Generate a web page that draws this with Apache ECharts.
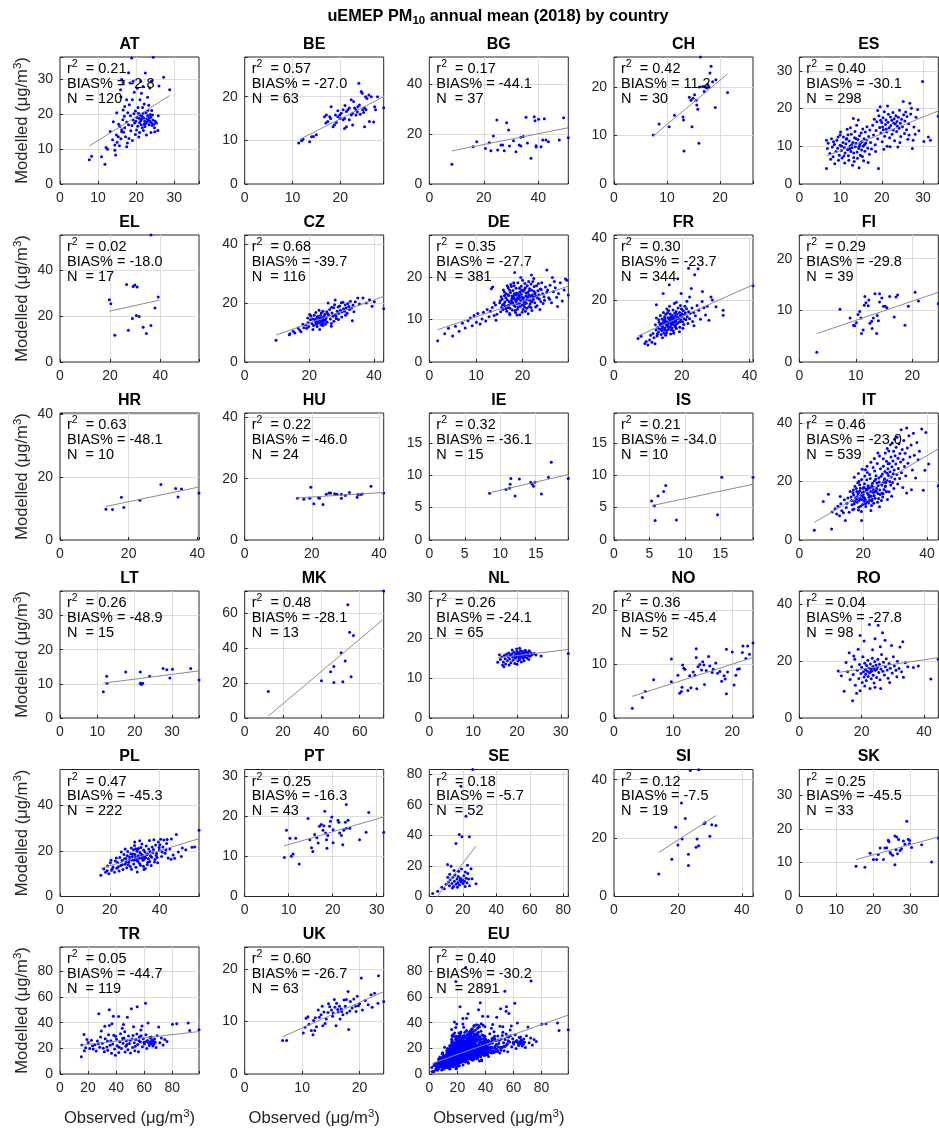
<!DOCTYPE html>
<html>
<head>
<meta charset="utf-8">
<script src="https://cdn.jsdelivr.net/npm/echarts@6/dist/echarts.min.js"></script>
<style>
html,body{margin:0;padding:0;background:#ffffff;}
#chart{width:939px;height:1130px;}
</style>
</head>
<body>
<div id="chart"></div>
<script>
// Panels, in reading order (5 per row)
const countries = ['AT','BE','BG','CH','ES','EL','CZ','DE','FR','FI','HR','HU','IE','IS','IT','LT','MK','NL','NO','RO','PL','PT','SE','SI','SK','TR','UK','EU'];

// Statistics printed in each panel
const r2Text   = ['0.21','0.57','0.17','0.42','0.40','0.02','0.68','0.35','0.30','0.29','0.63','0.22','0.32','0.21','0.46','0.26','0.48','0.26','0.36','0.04','0.47','0.25','0.18','0.12','0.25','0.05','0.60','0.40'];
const biasText = ['-2.8','-27.0','-44.1','11.2','-30.1','-18.0','-39.7','-27.7','-23.7','-29.8','-48.1','-46.0','-36.1','-34.0','-23.0','-48.9','-28.1','-24.1','-45.4','-27.8','-45.3','-16.3','-5.7','-7.5','-45.5','-44.7','-26.7','-30.2'];
const nText    = ['120','63','37','30','298','17','116','381','344','39','10','24','15','10','539','15','13','65','52','98','222','43','52','19','33','119','63','2891'];

// Axis upper limit (same on both axes) and tick step per panel
const axisMax  = [36.5,29.1,51,26.2,33.7, 55.5,43,29.8,41,24.6, 40.5,41.4,19.6,19.6,43.5, 37.2,72.5,31.7,23.5,44.6, 55.8,31.6,83,43.5,37.5, 99,24.2,99];
const tickStep = [10,10,20,10,10, 20,20,10,20,10, 20,20,5,5,20, 10,20,10,10,20, 20,10,20,20,10, 20,10,20];

// Linear fit drawn over each panel: [obs start, mod start, obs end, mod end]
const fitLines = [
  [7.7,10.9,28.8,25.4],[11.5,10.2,29.1,20.0],[8.3,13.3,51,22.6],[7.4,9.9,21.4,22.7],[6.6,7.4,33.7,19.4],
  [19.7,22.2,39.6,27.0],[9.7,9.1,43,22.2],[1.8,7.6,29.8,17.8],[7.1,8.4,41,24.9],[3.1,5.5,24.6,13.5],
  [13.4,10.7,40.5,16.9],[15.4,13.7,41.4,15.5],[8.5,7.3,19.6,10.1],[5.3,5.3,19.6,8.6],[4.7,6.0,43.5,31.2],
  [11.6,10.2,37.2,13.8],[12.3,1.1,72.5,56.5],[15.6,15.0,31.7,17.1],[3.1,4.0,23.5,11.2],[12.5,16.0,44.6,21.2],
  [16.4,12.3,55.8,25.4],[9.0,12.6,31.6,19.8],[2.0,-3.8,27.9,32.9],[14.0,15.1,31.9,27.7],[15.3,10.9,37.5,17.6],
  [15.2,22.4,99,33.1],[6.6,7.1,24.2,15.7],[2.0,8.2,99,46.0]
];

// Station values [observed, modelled] in µg/m3
const AT = [[7.7,7.0],[8.3,8.0],[10.9,7.8],[11.8,5.7],[12.1,10.5],[12.5,10.0],[14.4,9.7],[14.6,8.3],[14.4,11.2],[14.0,17.9],[14.8,14.1],[15.3,13.6],[15.0,12.0],[15.6,11.0],[16.0,13.0],[16.2,15.0],[15.9,27.1],[16.2,30.0],[16.6,29.2],[16.6,21.3],[17.0,22.3],[17.5,24.2],[17.5,10.7],[18.4,29.0],[18.8,36.2],[19.2,29.5],[19.0,24.2],[20.1,15.5],[21.0,24.2],[21.4,26.1],[21.8,28.0],[22.4,31.9],[23.6,27.6],[24.0,29.5],[24.5,36.4],[26.0,28.2],[27.2,30.7],[28.8,27.1],[24.9,15.0],[22.7,14.1],[17.5,17.8],[18.0,17.0],[18.9,16.8],[19.2,18.4],[19.6,17.5],[18.5,19.6],[15.7,16.5],[16.2,15.6],[16.7,14.9],[17.2,13.6],[18.1,13.1],[17.0,16.2],[16.5,18.5],[17.8,20.5],[19.8,21.0],[20.5,22.0],[21.0,19.8],[20.8,18.9],[21.2,18.2],[21.5,19.5],[21.8,20.3],[22.0,19.0],[22.2,18.0],[22.5,17.4],[22.8,18.7],[23.0,19.6],[23.2,18.3],[23.4,17.0],[23.6,18.0],[23.8,19.2],[24.0,17.6],[24.2,16.8],[24.4,18.4],[24.6,17.2],[24.8,16.2],[25.0,18.0],[25.3,17.5],[25.7,15.4],[21.3,17.0],[21.6,16.2],[21.9,15.4],[22.3,16.5],[22.6,20.5],[23.1,21.2],[23.7,20.0],[20.6,20.3],[20.2,19.2],[19.9,18.0],[20.4,16.6],[20.9,14.8],[21.7,22.0],[22.1,23.0],[18.2,22.8],[19.5,26.4],[20.3,27.5],[16.9,19.5],[14.9,20.5],[15.4,17.2],[13.8,12.7],[13.2,15.1],[19.0,12.5],[19.8,14.2],[18.6,15.3],[23.3,22.6],[24.1,21.1],[23.9,14.8],[20.7,13.5],[17.7,11.8],[16.0,25.0],[21.2,29.5],[18.0,32.0],[23.0,24.9],[25.8,19.6],[19.4,20.2],[22.9,17.8],[21.4,18.6],[23.5,19.0],[24.3,19.8],[22.1,17.2],[20.9,17.6]];
const BE = [[11.3,9.4],[11.9,9.9],[12.2,10.2],[13.6,9.7],[14.0,10.8],[14.4,10.9],[15.0,11.3],[16.7,15.4],[17.1,15.8],[17.8,15.4],[18.1,17.7],[17.4,14.3],[18.5,13.1],[18.8,13.6],[19.2,14.1],[19.5,15.4],[19.9,15.8],[20.2,16.2],[20.6,14.7],[20.9,15.0],[21.3,16.6],[21.6,17.0],[21.9,17.4],[21.9,14.7],[21.3,13.1],[20.9,12.7],[22.6,13.5],[22.3,19.3],[22.8,18.9],[23.0,17.4],[23.3,17.0],[23.7,17.7],[23.9,23.1],[24.0,18.1],[24.4,21.2],[24.6,20.8],[24.7,17.0],[24.9,16.4],[25.1,17.4],[25.3,20.0],[25.4,17.0],[25.6,19.6],[26.0,20.4],[26.5,20.0],[26.1,14.3],[25.1,13.1],[27.2,17.7],[27.4,17.0],[27.8,20.0],[27.0,14.2],[29.1,17.5],[22.3,15.8],[22.6,16.2],[23.3,15.8],[20.6,17.0],[19.0,15.8],[19.5,16.8],[21.0,18.0],[23.6,16.5],[24.2,16.0],[18.0,15.0],[17.0,14.0],[20.0,15.0]];
const BG = [[8.3,7.9],[16.1,15.0],[17.4,17.0],[20.6,14.3],[22.0,16.6],[22.6,13.4],[23.5,19.3],[24.8,25.7],[25.1,13.7],[26.3,15.7],[26.9,15.7],[27.5,13.4],[28.4,24.6],[29.1,21.7],[29.4,15.3],[30.9,17.4],[31.8,13.0],[33.0,15.7],[33.6,15.3],[33.6,18.8],[34.5,19.1],[35.5,26.8],[36.0,16.5],[37.3,10.3],[38.5,27.0],[38.8,25.4],[39.2,15.4],[39.2,14.9],[40.1,26.0],[41.0,15.0],[41.6,17.7],[42.2,26.2],[42.8,17.7],[43.7,17.0],[47.7,17.7],[49.3,26.6],[51.0,18.6]];
const CH = [[7.4,10.1],[8.5,12.4],[10.4,11.8],[11.4,14.2],[13.0,13.8],[13.1,13.2],[13.2,6.8],[14.2,17.9],[14.5,17.3],[14.7,11.8],[14.9,17.7],[15.2,18.4],[15.5,17.3],[15.6,16.3],[15.8,15.4],[16.0,8.4],[16.1,20.0],[16.3,26.2],[16.7,20.1],[17.0,19.1],[17.2,20.0],[17.5,19.8],[17.7,20.5],[17.9,20.0],[18.1,22.9],[18.3,24.3],[18.6,21.1],[19.1,15.8],[19.2,21.5],[21.4,18.9]];
const ES = [[6.6,4.1],[6.6,11.6],[7.0,10.8],[6.8,9.4],[7.4,8.1],[8.2,7.2],[8.6,5.4],[9.5,6.3],[9.1,11.6],[9.9,13.0],[10.7,12.5],[7.8,12.0],[8.0,9.8],[8.5,10.5],[8.9,8.6],[9.3,9.5],[9.7,7.6],[9.9,10.3],[10.2,8.9],[10.4,6.9],[10.6,11.0],[10.9,9.6],[11.1,8.2],[11.3,10.7],[11.5,12.1],[11.7,9.1],[11.9,7.5],[12.1,11.4],[12.3,10.0],[12.5,8.6],[12.6,13.2],[12.8,9.6],[13.0,11.0],[13.1,17.4],[13.2,7.0],[13.4,12.3],[13.6,9.9],[13.8,10.8],[13.9,15.6],[14.0,8.5],[14.2,11.8],[14.3,17.0],[14.4,9.4],[14.5,4.3],[14.6,12.8],[14.7,10.4],[14.8,7.6],[15.0,13.5],[15.1,9.0],[15.2,11.2],[15.4,14.6],[15.5,10.0],[15.6,6.2],[15.7,12.0],[15.9,8.7],[16.0,13.8],[16.1,10.8],[16.3,11.7],[16.4,15.2],[16.6,9.5],[16.8,12.6],[17.0,7.9],[17.1,14.3],[11.0,5.6],[12.0,6.3],[12.9,5.0],[10.0,13.8],[11.6,14.5],[12.4,14.9],[13.5,13.9],[9.4,12.5],[8.3,11.2],[7.6,6.6],[10.8,7.4],[13.3,6.0],[14.1,6.8],[16.7,5.7],[15.3,7.3],[17.5,9.3],[17.3,11.0],[11.4,11.9],[12.2,9.3],[13.7,12.1],[14.9,11.0],[10.3,10.0],[12.7,10.4],[15.8,10.5],[11.8,13.1],[13.2,8.2],[14.5,9.9],
  [17.8,15.6],[18.0,13.0],[18.2,17.2],[18.4,10.4],[18.6,14.2],[18.8,16.5],[19.0,12.0],[19.2,4.1],[19.3,18.1],[19.5,15.0],[19.6,20.5],[19.8,13.5],[20.0,16.3],[20.1,11.2],[20.3,17.6],[20.4,14.4],[20.6,19.2],[20.7,12.7],[20.9,15.8],[21.0,17.0],[21.2,13.8],[21.3,10.0],[21.5,16.4],[21.6,18.5],[21.8,14.9],[21.9,12.3],[22.1,17.8],[22.2,15.5],[22.4,16.9],[22.5,13.2],[22.7,19.0],[22.8,14.3],[23.0,17.3],[23.1,11.5],[23.3,15.9],[23.4,18.1],[23.6,13.9],[23.7,16.6],[23.9,9.8],[24.0,17.7],[24.2,14.8],[24.3,19.6],[24.5,16.1],[24.6,12.6],[24.8,17.2],[25.0,15.2],[25.2,21.9],[25.3,18.4],[25.5,13.4],[25.6,16.7],[25.8,19.1],[26.0,14.4],[26.1,17.9],[26.3,11.9],[26.5,16.0],[26.8,21.4],[27.0,18.6],[27.2,20.1],[27.4,9.4],[27.6,11.6],[27.8,15.1],[28.1,13.2],[28.3,17.7],[28.7,19.8],[29.0,14.1],[29.9,27.2],[30.2,11.3],[31.3,12.5],[31.8,11.6],[33.7,18.0],[19.0,19.5],[21.4,20.7],[18.5,8.6],[20.5,9.2],[22.0,9.9],[24.4,11.0],[26.6,13.0],[20.2,15.1],[21.1,14.6],[22.9,16.2],[19.7,16.9],[23.8,15.3]];
const EL = [[19.7,27.2],[20.3,25.5],[21.9,11.7],[26.6,33.9],[27.3,13.9],[28.9,19.0],[29.2,33.0],[29.9,33.6],[30.5,20.3],[30.8,32.8],[31.6,19.9],[33.2,15.2],[34.5,12.5],[36.3,15.9],[36.3,55.5],[37.9,23.6],[39.2,28.4]];
const CZ = [[9.7,7.4],[13.8,9.2],[14.0,9.6],[15.0,10.4],[15.5,9.8],[17.0,10.8],[17.4,10.2],[18.3,11.6],[18.9,12.5],[19.6,13.3],[19.2,11.4],[19.8,12.0],[20.1,16.1],[20.5,15.6],[20.3,14.3],[20.8,13.0],[21.0,14.6],[21.3,12.4],[21.5,15.8],[21.7,14.4],[21.9,13.6],[22.1,12.8],[22.3,14.9],[22.5,13.9],[22.6,15.5],[22.8,13.2],[23.0,14.2],[23.2,14.9],[23.2,11.0],[23.4,13.6],[23.5,15.8],[23.7,16.6],[23.8,14.0],[24.0,13.1],[24.2,17.2],[24.3,14.6],[24.5,15.4],[24.6,13.8],[24.8,16.2],[25.0,14.2],[25.2,15.0],[25.4,17.0],[25.5,13.5],[25.8,20.0],[26.0,15.8],[26.3,17.8],[26.5,14.6],[26.8,12.1],[27.0,16.6],[27.3,15.5],[27.5,18.4],[27.8,19.4],[28.0,16.0],[28.3,15.5],[28.6,17.2],[28.9,18.6],[29.1,16.4],[29.4,19.0],[29.6,17.5],[29.9,20.1],[30.1,16.9],[30.4,20.2],[30.6,18.0],[30.9,17.2],[31.1,19.3],[31.4,18.3],[31.7,16.5],[31.9,19.8],[32.2,18.8],[32.4,17.8],[32.7,20.6],[33.0,18.2],[33.3,14.0],[33.5,19.2],[33.8,17.0],[35.0,21.7],[35.5,19.6],[36.6,21.7],[37.6,20.0],[38.6,21.1],[39.4,18.9],[40.1,20.4],[43.0,18.0],[28.3,14.7],[26.8,13.0],[21.1,11.0],[24.1,12.4],[22.0,16.8],[23.0,17.5],[25.7,16.3],[26.9,18.5],[29.0,14.4],[30.0,15.2],[31.2,15.8],[34.2,20.4],[28.0,21.0],[19.5,14.9],[18.0,12.8],[16.5,11.5],[22.4,12.0],[24.9,12.8],[27.6,13.8],[23.9,15.0],[22.2,13.3],[24.4,14.1],[23.6,12.6]];
const DE = [[1.8,5.0],[3.3,6.6],[4.1,7.9],[5.0,6.1],[5.6,8.4],[6.4,7.2],[7.1,9.1],[7.7,8.0],[8.3,9.7],[8.8,10.3],[9.2,8.5],[9.6,10.9],[10.1,9.3],[10.4,11.4],[10.9,8.9],[11.3,10.1],[11.6,11.7],[12.1,9.6],[12.4,12.3],[12.8,10.6],[13.1,11.9],[13.3,17.2],[13.6,17.6],[13.5,12.8],[13.9,10.9],[14.2,13.4],[14.5,11.2],[14.3,9.8],
  [16.3,13.1],[19.7,15.9],[17.2,11.4],[21.4,16.7],[18.6,14.2],[15.4,15.3],[20.9,12.6],[23.8,17.1],[17.9,16.8],[19.1,12.9],[22.3,14.7],[16.7,14.6],[24.6,15.3],[18.2,17.9],[20.3,14.1],[15.8,12.3],[21.8,18.3],[19.4,11.1],[17.5,13.8],[23.1,13.2],[16.1,16.4],[20.6,17.4],[18.9,15.1],[22.7,16.2],[15.1,13.9],[19.9,13.4],[21.1,15.2],[17.0,15.6],[24.1,18.6],[18.4,12.1],[20.1,16.6],[16.6,11.9],[22.0,12.1],[19.3,17.3],[17.7,14.9],[23.5,15.8],[15.6,14.7],[21.6,13.6],[18.1,13.4],[20.7,15.5],[25.2,16.4],[16.9,17.4],[19.6,14.4],[22.5,17.7],[17.3,12.6],[21.2,11.3],[18.7,16.2],[23.9,14.2],[16.4,15.1],[20.4,12.9],[19.0,18.6],[22.9,15.4],[15.3,11.8],[18.0,15.4],[21.9,16.9],[17.6,17.7],[24.4,13.7],[19.8,16.9],[16.0,13.6],[20.8,13.8],[18.5,11.6],[22.2,18.9],[17.1,14.2],[23.3,16.7],[19.2,15.6],[21.5,14.5],[16.8,12.8],[20.0,19.2],[18.3,14.7],[24.9,17.6],[15.9,16.9],[21.0,17.9],[17.8,12.2],[22.6,13.9],[19.5,13.0],[20.5,18.4],[18.8,13.7],[23.7,12.3],[16.5,16.0],[21.7,15.4],[17.4,16.3],[19.9,11.7],[22.4,16.6],[15.5,12.8],[20.2,15.1],[18.1,18.6],[24.3,16.0],[16.2,14.1],[21.3,18.9],[19.1,14.8],[23.0,17.9],[17.0,13.3],[20.6,11.9],[18.6,17.3],[22.1,14.3],[16.7,17.9],[19.4,16.4],[21.8,12.8],[17.7,15.5],[23.6,14.8],[20.3,13.5],[18.9,12.4],[15.2,14.4],[22.8,12.9],[19.7,17.8],[17.3,11.1],[21.1,16.3],[24.7,14.5],[18.2,16.0],[20.9,14.6],[16.9,15.8],[22.4,19.6],[19.3,13.8],[25.6,15.1],[17.9,13.9],[21.5,17.2],[20.1,12.3],[18.5,15.7],[23.2,15.0],[16.4,12.5],[19.6,19.8],[22.0,15.7],[17.5,18.2],[20.7,16.2],[18.8,11.0],[24.0,17.0],[16.1,15.6],[21.4,13.0],[19.0,16.0],[22.6,16.0],[17.2,16.9],[20.4,17.0],[23.4,18.4],[18.4,13.0],[15.7,13.4],[21.9,14.1],[19.8,15.3],[17.6,14.4],[20.0,14.8],[18.7,14.6],[21.3,15.8],[19.3,15.0],[20.5,14.3],[18.1,15.0],[22.3,15.3],[18.3,21.0],[21.9,20.4],[25.2,21.6],[26.4,19.8],[13.9,13.9],
  [25.4,16.9],[25.9,18.0],[26.2,13.9],[26.6,16.5],[27.0,17.4],[27.3,15.2],[27.7,16.1],[28.1,18.6],[28.5,14.3],[28.9,16.9],[29.2,19.5],[29.5,19.2],[29.8,15.7],[27.5,13.0],[26.8,18.9],[25.8,14.7]];
const FR = [[7.1,7.6],[8.0,8.3],[9.1,6.0],[9.5,6.6],[10.0,5.5],[10.5,7.1],[10.8,8.6],[11.2,6.4],[11.5,9.2],[11.8,7.8],[12.1,5.9],[12.4,10.3],[12.7,8.4],
  [12.2,12.0],[12.5,14.2],[12.9,11.1],[13.1,9.6],[13.3,12.8],[13.5,10.6],[13.7,15.0],[13.9,8.9],[12.5,18.5],[13.2,13.6],[13.8,11.7],[12.8,9.0],
  [14.0,12.3],[14.1,10.1],[14.2,13.9],[14.3,7.8],[14.4,11.5],[14.5,22.1],[14.6,16.0],[14.7,9.4],[14.8,12.8],[14.9,14.6],[14.2,10.8],[14.6,13.3],
  [15.0,11.0],[15.1,13.4],[15.2,8.6],[15.3,15.4],[15.4,12.1],[15.5,10.2],[15.6,17.1],[15.7,13.0],[15.8,11.6],[15.9,14.3],[15.2,12.6],[15.5,9.4],[15.8,15.9],
  [16.0,12.4],[16.1,10.6],[16.2,14.0],[16.3,24.9],[16.4,13.0],[16.5,11.4],[16.6,15.5],[16.7,9.0],[16.8,13.7],[16.9,12.0],[16.1,16.6],[16.4,18.0],[16.7,14.5],[16.9,10.4],
  [17.0,13.3],[17.1,11.0],[17.2,15.0],[17.3,12.3],[17.4,16.8],[17.5,10.1],[17.6,14.1],[17.7,12.8],[17.8,18.9],[17.9,11.6],[17.2,13.8],[17.6,9.3],[17.9,15.7],
  [18.0,13.5],[18.1,14.8],[18.2,12.0],[18.3,16.3],[18.4,10.8],[18.5,13.9],[18.6,15.4],[18.7,12.5],[18.8,26.9],[18.9,17.4],[18.4,19.3],[18.1,11.4],
  [19.0,14.1],[19.2,12.9],[19.3,16.0],[19.4,11.2],[19.5,15.0],[19.7,13.6],[19.8,22.1],[19.9,17.1],[19.3,9.8],[19.6,18.2],
  [20.0,14.8],[20.2,13.0],[20.4,16.6],[20.6,12.1],[20.8,15.3],[20.9,18.0],[20.3,10.9],[20.7,14.0],
  [21.0,15.9],[21.2,13.6],[21.4,17.2],[21.6,14.6],[21.8,12.4],[22.0,16.2],[21.5,19.6],
  [22.3,21.0],[22.3,14.0],[22.5,15.7],[22.8,23.7],[22.0,30.3],[23.0,17.4],[23.2,13.1],[23.5,16.0],[23.8,28.2],[24.0,14.9],[24.8,30.1],[24.5,18.2],[23.6,11.7],
  [25.0,16.7],[25.5,13.8],[26.1,22.8],[26.5,17.5],[27.0,15.2],[27.5,18.0],[28.6,21.0],[29.0,20.0],[30.1,17.8],[32.2,16.7],[32.2,15.1],[26.0,19.5],[28.0,13.5],[41.0,24.6],
  [13.6,12.2],[14.4,12.6],[15.0,14.0],[15.6,11.8],[16.2,12.8],[16.6,13.2],[17.0,12.6],[17.4,14.4],[18.2,13.2],[18.8,14.4],[19.6,13.0],[20.0,15.6],[14.9,10.3],[16.0,11.2]];
const FI = [[3.1,1.9],[7.2,10.2],[9.0,8.5],[9.6,7.1],[9.8,7.0],[10.1,7.6],[10.7,9.8],[10.9,8.5],[11.0,5.5],[11.3,6.2],[11.5,11.0],[11.6,12.7],[11.8,11.5],[12.2,10.9],[12.3,12.0],[12.5,7.5],[12.8,7.9],[12.9,6.5],[13.1,8.5],[13.4,13.2],[13.7,5.5],[13.8,9.0],[14.0,8.0],[14.2,13.2],[14.2,11.6],[14.6,12.4],[14.9,10.8],[15.2,10.8],[15.5,10.5],[16.0,12.7],[16.8,8.7],[17.1,12.6],[17.4,13.0],[18.7,7.1],[19.3,10.8],[20.5,13.5],[21.1,11.8],[24.6,11.3],[10.4,9.2]];
const HR = [[13.4,9.8],[15.3,9.7],[17.9,13.6],[18.6,10.4],[23.3,12.7],[29.4,17.7],[33.7,16.4],[34.4,13.7],[35.4,16.3],[40.5,15.0]];
const HU = [[15.7,13.6],[17.6,13.3],[19.4,13.6],[19.7,17.2],[20.6,11.8],[22.0,13.8],[22.3,13.6],[23.3,11.6],[24.3,14.9],[25.1,15.3],[25.6,15.3],[26.8,15.1],[27.1,14.8],[27.5,14.9],[28.8,14.9],[28.8,13.6],[31.2,15.5],[33.5,13.9],[33.7,14.8],[34.5,14.8],[35.0,15.0],[37.6,17.5],[41.4,15.3],[30.0,14.5]];
const IE = [[8.5,7.2],[10.8,7.8],[11.3,8.0],[11.4,8.6],[11.5,9.5],[12.1,6.8],[12.7,9.4],[14.3,8.9],[14.5,8.6],[14.7,8.3],[14.9,8.9],[15.8,7.1],[16.8,9.7],[17.2,12.0],[19.6,9.5]];
const IS = [[5.3,6.0],[5.7,5.3],[5.8,3.0],[6.2,6.8],[7.0,7.5],[7.3,8.4],[8.8,3.1],[14.6,3.9],[15.2,9.7],[19.6,9.7]];
const IT = [[4.7,3.3],[7.5,13.2],[9.1,15.7],[10.1,3.8],[10.3,9.6],[11.2,10.7],[11.7,8.9],[12.1,11.6],[12.6,8.3],[13.0,12.4],[13.3,10.0],[13.8,9.3],[14.1,13.8],[14.4,6.7],[14.7,11.1],[15.2,14.4],[15.6,9.5],[15.9,16.6],[12.8,14.9],[14.9,12.6],
  [17.3,13.2],[21.6,17.9],[19.2,11.6],[24.3,19.5],[18.4,15.8],[22.7,13.4],[16.5,12.1],[25.6,21.8],[20.1,16.4],[23.4,15.2],[17.8,17.6],[26.9,18.3],[19.6,13.9],[21.1,20.6],[16.2,14.7],[24.8,14.2],[18.9,18.9],[22.3,16.6],[20.7,12.4],[27.5,22.9],[17.1,10.6],[23.9,20.8],[19.3,15.3],[25.2,17.1],[21.8,14.6],[18.1,12.9],[26.3,25.3],[20.4,19.3],[23.0,18.1],[16.8,16.2],[24.5,12.9],[22.0,22.4],[19.9,14.8],[27.1,19.7],[18.6,11.2],[21.4,15.9],[25.9,16.1],[17.6,14.5],[23.6,23.6],[20.9,17.5],[19.0,16.9],[26.6,20.5],[22.6,11.8],[18.3,19.6],[24.1,16.9],[21.2,13.1],[17.0,15.4],[25.4,24.4],[20.6,14.0],[23.2,17.2],[19.5,20.7],[27.8,26.1],[16.4,13.5],[22.9,19.4],[18.8,13.6],[24.7,18.7],[21.7,12.7],[20.2,18.1],[26.1,14.7],[17.4,18.4],[23.7,14.3],[19.8,12.2],[22.2,21.1],[25.0,19.9],[18.0,16.6],[21.0,16.8],[24.0,22.0],[16.7,10.4],[20.5,21.9],[23.3,12.6],[19.1,17.7],[26.5,17.3],[22.5,15.0],[17.9,14.0],[24.4,26.2],[21.5,18.6],[18.5,10.3],[25.7,13.5],[20.0,15.6],[23.8,16.4],[19.4,9.8],[27.3,16.5],[22.1,17.9],[17.2,12.3],[24.9,21.2],[20.8,11.5],[18.7,20.1],[26.0,22.6],[21.9,15.3],[23.1,24.8],[19.7,16.1],[25.3,15.6],[16.9,17.1],[22.8,13.9],[20.3,13.3],[24.2,17.7],[18.2,14.9],[21.3,23.1],[26.8,23.5],[19.5,6.7],[22.4,10.1],[25.1,11.4],[20.7,24.1],[23.5,27.9],[22.4,26.6],[21.2,25.3],[19.7,24.2],[18.5,22.8],[17.2,21.5],[24.6,29.8],[25.1,28.8],[26.3,27.8],
  [20.4,14.5],[21.6,15.6],[22.0,13.6],[19.0,14.2],[23.1,16.3],[21.3,17.3],[20.0,17.7],[22.7,18.7],[18.7,16.5],[24.6,15.9],[25.8,18.8],[23.5,20.2],
  [26.9,29.8],[27.5,31.3],[28.0,30.5],[28.5,32.6],[29.1,33.2],[29.8,34.5],[30.6,35.2],[31.9,37.8],[33.6,38.4],[35.7,36.6],[38.3,38.0],[39.6,36.8],[34.3,35.7],[32.7,34.1],[31.2,33.0],[30.3,31.8],[29.5,30.4],[28.7,28.4],[27.3,27.0],[29.3,27.1],[30.0,28.9],[31.5,29.6],[33.1,29.7],[35.0,32.5],[36.8,33.4],[33.8,31.5],[32.2,31.0],[28.2,26.2],[30.9,28.0],[34.6,28.4],[36.0,29.0],[37.6,30.4],[29.0,25.1],[31.7,26.7],[32.5,27.6],[30.2,26.0],[27.7,24.4],[28.4,23.4],[29.7,24.0],[31.0,24.5],[32.9,25.2],[34.0,26.3],[37.2,27.5],[29.4,22.7],[30.5,22.4],[32.0,23.0],[33.3,22.0],[35.4,24.0],[28.8,21.6],[29.9,20.9],[31.4,21.1],[36.4,21.2],[39.3,23.9],[40.5,26.0],[28.3,20.0],[29.2,19.7],[30.8,19.2],[28.6,18.8],[29.6,17.6],[32.4,18.0],[28.1,16.5],[28.9,15.0],[33.6,16.1],[35.1,17.2],[38.8,17.0],[43.5,18.6],[27.6,13.9],[26.2,15.8],[27.0,18.5],[26.4,19.8],[27.4,20.5],[27.9,22.1],[26.7,21.0],[27.2,16.6]];
const LT = [[11.6,7.7],[12.5,12.2],[12.6,10.2],[17.6,13.5],[21.5,13.5],[21.5,10.2],[21.8,9.8],[22.1,10.2],[24.0,12.2],[27.6,14.5],[28.6,14.1],[29.4,11.7],[30.1,14.3],[35.0,14.5],[37.2,11.1]];
const MK = [[12.3,15.1],[40.0,21.3],[44.8,26.4],[46.5,29.4],[46.5,20.3],[50.3,37.3],[51.2,20.7],[52.4,32.6],[53.8,64.6],[54.7,49.0],[55.5,23.5],[56.7,47.1],[72.5,72.5]];
const NL = [[15.6,13.9],[16.2,14.6],[16.5,15.2],[16.7,13.2],[16.9,14.0],[17.1,15.6],[17.3,14.8],[17.4,13.5],[17.6,15.9],[17.8,14.3],[18.0,15.3],[18.1,16.2],[18.3,14.7],[18.5,15.7],[18.6,13.8],[18.8,16.0],[19.0,15.2],[19.1,14.4],[19.3,16.4],[19.4,15.5],[19.6,14.9],[19.7,16.0],[19.8,15.3],[20.0,16.6],[20.1,15.6],[20.2,14.2],[20.3,15.9],[20.4,15.1],[20.5,16.3],[20.6,14.6],[20.7,15.7],[20.8,16.8],[20.9,15.2],[21.0,14.0],[21.1,16.1],[21.2,15.5],[21.3,16.6],[21.4,14.9],[21.5,15.9],[21.7,16.4],[21.8,15.3],[21.9,16.9],[22.0,15.8],[22.2,16.5],[22.3,15.0],[22.5,16.2],[22.6,15.6],[22.8,16.8],[23.0,15.4],[23.2,16.3],[23.4,15.8],[23.9,16.1],[24.3,15.7],[25.5,15.5],[31.7,16.1],[17.0,12.8],[18.2,13.2],[19.5,13.6],[20.0,13.4],[21.6,14.3],[16.0,15.8],[19.9,17.2],[20.6,17.4],[22.7,14.6],[18.9,17.0]];
const NO = [[3.1,1.8],[4.8,3.8],[5.3,4.9],[6.7,7.1],[9.7,10.9],[9.7,6.7],[10.8,7.9],[11.1,4.6],[11.4,4.9],[11.5,5.7],[11.6,9.8],[11.8,9.2],[12.5,5.1],[12.8,7.8],[13.0,5.6],[13.4,8.5],[13.7,7.9],[13.9,12.8],[13.9,11.2],[14.2,9.5],[14.5,9.9],[14.8,8.9],[15.0,10.4],[15.2,9.8],[15.3,6.2],[15.6,8.8],[16.0,11.4],[16.2,9.6],[16.6,8.4],[16.8,9.0],[17.5,8.3],[17.9,8.6],[18.6,7.8],[18.8,7.2],[19.0,4.5],[19.0,12.7],[19.2,8.5],[20.0,12.2],[20.3,6.1],[20.6,7.9],[20.9,9.0],[21.2,9.1],[21.7,12.1],[21.8,13.3],[22.6,13.3],[23.5,13.9],[22.3,11.0],[22.9,11.8],[12.0,9.0],[14.0,5.4],[17.2,10.2],[18.2,6.8]];
const RO = [[12.5,16.5],[13.5,14.8],[14.4,9.4],[15.0,19.5],[15.5,16.2],[16.0,22.9],[16.3,13.5],[16.8,18.0],[17.1,6.1],[17.3,15.3],[17.8,20.6],[18.0,11.5],[18.4,8.7],[18.6,16.8],[18.9,24.1],[19.1,13.9],[19.3,18.8],[19.5,29.0],[19.5,9.6],[19.8,15.6],[20.0,17.8],[20.2,12.5],[20.4,21.5],[20.6,16.2],[20.8,14.4],[21.0,19.2],[21.2,17.0],[21.3,15.4],[21.5,13.2],[21.6,18.4],[21.8,16.4],[22.0,20.3],[22.1,14.6],[22.3,17.6],[22.5,32.8],[22.5,15.8],[22.7,10.4],[22.8,19.0],[23.0,17.2],[23.1,13.8],[23.3,16.5],[23.4,21.0],[23.6,18.1],[23.7,15.0],[23.9,17.4],[24.0,12.3],[24.2,19.8],[24.3,10.8],[24.3,27.8],[24.4,16.8],[24.6,18.6],[24.8,14.2],[25.0,17.8],[25.2,20.6],[25.3,32.6],[25.5,16.0],[25.7,18.9],[25.9,13.4],[26.1,10.4],[26.2,17.2],[26.4,22.3],[26.7,29.9],[26.8,16.4],[27.0,19.6],[27.3,15.1],[27.5,27.3],[27.6,18.0],[27.9,20.8],[28.2,16.9],[28.5,14.0],[28.8,19.1],[29.2,17.5],[29.6,25.5],[29.8,15.8],[30.2,21.5],[30.5,18.3],[31.0,16.8],[31.5,19.9],[32.0,17.4],[32.3,24.9],[32.8,16.2],[33.2,26.8],[33.4,14.3],[34.0,19.4],[34.8,18.0],[36.6,17.7],[38.2,18.3],[42.2,13.7],[44.6,20.6],[21.0,11.2],[23.5,24.0],[26.0,25.0],[29.0,12.5],[17.5,21.8],[20.8,27.0],[31.3,14.5],[22.9,16.3],[24.8,17.1]];
const PL = [[16.4,9.3],[17.6,12.1],[18.3,10.7],[19.1,13.4],[19.6,10.0],[20.2,14.8],[20.7,11.5],[21.3,13.0],[21.9,10.6],[22.2,15.6],[22.8,12.4],[23.1,14.9],[23.7,11.2],[24.0,17.1],[24.4,13.6],[24.9,15.8],[25.3,11.9],[25.7,18.4],[26.1,14.2],[26.4,16.7],[26.8,12.6],[27.2,19.8],[27.6,15.1],[27.9,17.4],[28.2,13.2],[28.6,21.3],[28.9,16.0],[29.3,18.7],[29.6,14.3],[29.9,22.4],[30.3,17.2],[30.5,12.8],[30.9,19.9],[31.2,15.5],[31.6,21.2],[31.8,16.8],[32.3,13.7],[32.6,18.6],[32.9,23.1],[33.3,15.9],[33.6,20.4],[33.9,17.5],[34.3,12.3],[34.6,22.2],[34.9,18.3],[35.3,15.0],[35.6,20.9],[35.9,24.6],[36.3,17.9],[36.6,13.6],[37.0,21.7],[37.3,19.2],[37.7,24.9],[38.1,16.3],[38.4,22.6],[38.8,18.9],[39.2,14.8],[39.5,23.9],[39.9,20.3],[40.4,25.1],[40.8,17.6],[41.3,21.8],[41.7,24.8],[42.2,19.0],[42.8,23.3],[43.4,16.9],[44.1,20.9],[44.7,25.3],[45.4,18.2],[46.0,16.8],[46.7,27.2],[47.5,19.5],[48.7,17.6],[49.1,21.3],[50.5,20.5],[53.0,21.6],[54.1,21.7],[55.8,29.1],[44.6,16.4],[41.0,19.5],
  [18.9,11.3],[21.0,12.2],[23.4,13.1],[25.0,13.9],[26.6,15.0],[27.4,14.0],[28.0,16.3],[29.0,17.6],[29.8,15.9],[30.1,18.4],[30.7,16.2],[31.4,17.9],[31.9,14.6],[32.1,19.3],[32.8,16.9],[33.1,18.1],[33.7,16.3],[34.1,19.6],[34.4,17.0],[35.1,18.7],[35.5,16.6],[36.1,19.8],[36.8,17.2],[37.5,20.6],[38.6,18.0],[39.8,21.5],[27.0,17.9],[28.4,18.8],[29.5,20.5],[30.4,21.0],[31.1,20.6],[32.5,21.5],[33.5,13.3],[35.0,14.1],[36.0,15.4],[37.9,15.2],[26.2,20.9],[24.6,19.5],[31.0,10.8],[33.7,11.9],[30.0,24.0],[32.0,24.5],[39.0,17.1],[40.1,22.7],[42.5,20.4],[43.0,25.0],[28.7,12.0],[25.9,16.6],[22.6,16.9],[20.5,15.9]];
const PT = [[9.0,9.7],[9.5,16.5],[10.3,14.5],[10.6,10.0],[11.0,10.6],[11.6,14.5],[12.4,8.1],[14.4,19.4],[14.8,14.1],[15.2,12.1],[15.5,11.2],[15.9,15.4],[16.7,13.3],[17.0,17.5],[17.4,17.9],[17.8,16.5],[18.0,17.6],[18.2,21.2],[18.4,15.8],[18.6,14.1],[18.7,12.0],[18.9,15.2],[19.3,17.5],[19.5,18.7],[20.1,16.6],[20.1,13.4],[21.2,19.0],[21.4,18.5],[21.6,15.8],[22.0,15.2],[22.5,16.5],[22.9,18.5],[23.1,17.0],[23.1,22.9],[23.5,19.0],[23.9,17.0],[22.3,12.9],[26.1,14.1],[27.6,16.0],[28.2,20.9],[31.6,16.0],[16.4,14.6],[19.8,19.8]];
const SE = [[2.0,2.0],[5.0,3.5],[7.5,6.0],[9.0,5.0],[10.0,8.0],[10.9,20.9],[11.5,9.5],[12.0,7.0],[12.5,11.0],[13.0,19.8],[13.5,8.5],[14.0,12.5],[14.5,6.5],[15.0,10.0],[15.3,14.0],[15.9,34.6],[16.0,8.0],[16.5,11.5],[17.0,9.0],[17.3,13.0],[17.9,40.5],[18.0,7.5],[18.3,10.5],[18.6,12.0],[18.9,72.1],[19.0,9.5],[19.5,39.0],[19.8,11.0],[20.2,8.5],[20.6,13.5],[21.0,10.0],[21.4,6.5],[21.9,52.5],[22.0,12.0],[22.5,9.0],[23.0,15.0],[23.5,11.5],[23.9,39.0],[24.9,18.1],[25.5,11.6],[25.9,83.0],[27.9,8.4],[17.5,16.5],[19.2,18.0],[14.8,17.0],[12.2,14.5],[16.8,6.0],[21.5,16.0],[24.0,7.0],[11.0,12.5],[13.8,5.5],[22.8,20.5]];
const SI = [[14.0,7.7],[18.1,12.8],[19.3,23.7],[20.0,17.6],[21.1,32.0],[21.3,19.7],[22.3,26.7],[23.3,14.5],[23.3,10.6],[23.9,43.2],[25.7,16.9],[26.0,19.7],[26.5,17.4],[26.5,43.4],[28.2,24.9],[28.5,25.3],[30.0,20.6],[30.6,24.6],[31.9,24.3]];
const SK = [[15.3,8.9],[17.7,8.6],[19.1,12.8],[20.0,10.9],[20.9,10.9],[21.3,12.4],[21.8,14.3],[22.7,10.9],[23.1,14.3],[23.6,14.4],[24.0,16.6],[24.2,16.2],[24.5,13.0],[24.7,12.6],[25.2,12.2],[25.8,17.9],[25.8,9.4],[26.1,13.8],[26.3,17.6],[26.5,12.6],[26.8,16.8],[27.2,13.6],[27.6,14.1],[28.1,16.4],[28.5,15.4],[29.0,22.2],[29.4,16.9],[29.7,15.6],[29.8,16.5],[30.3,14.5],[33.0,15.3],[35.7,10.2],[37.5,17.3]];
const TR = [[15.2,13.4],[15.6,22.7],[17.1,30.8],[18.3,20.4],[20.1,24.6],[21.2,19.9],[22.4,26.3],[23.7,19.4],[24.9,22.8],[25.8,17.9],[26.6,25.7],[27.6,47.0],[28.3,20.8],[29.4,33.6],[30.1,23.9],[31.6,17.3],[32.2,27.4],[33.4,21.0],[34.0,18.6],[35.1,50.0],[35.1,37.9],[36.2,26.0],[36.7,16.1],[37.0,39.1],[37.6,23.3],[38.3,30.2],[38.9,19.4],[39.4,14.6],[40.2,27.1],[40.7,22.1],[41.7,44.8],[41.9,16.8],[42.6,25.2],[43.1,31.4],[43.8,19.8],[44.3,35.6],[44.9,24.0],[45.2,38.5],[45.6,28.1],[46.4,17.2],[46.9,21.6],[47.3,25.9],[48.0,44.3],[48.4,19.0],[48.8,29.6],[49.5,23.7],[50.2,16.3],[50.8,50.8],[51.3,27.2],[51.7,20.6],[52.4,36.9],[52.9,24.4],[53.3,18.1],[54.0,26.8],[54.7,31.2],[55.0,52.5],[55.3,22.9],[55.9,17.4],[56.5,28.9],[57.2,25.0],[57.6,34.3],[58.4,37.4],[58.7,21.3],[59.4,27.5],[60.1,23.4],[60.9,55.2],[61.2,30.6],[61.8,19.8],[62.3,26.2],[62.7,39.8],[63.1,24.1],[63.6,22.3],[64.0,28.4],[64.4,25.2],[64.9,23.6],[65.3,26.7],[65.7,24.4],[66.1,21.9],[66.4,25.8],[66.9,23.1],[67.3,27.3],[67.8,24.8],[68.4,20.7],[69.2,29.8],[70.3,36.6],[71.1,24.3],[72.2,28.1],[73.4,22.6],[74.6,26.9],[76.2,25.4],[80.1,38.7],[83.1,39.2],[91.3,39.7],[92.4,34.0],[99.0,34.5],[38.0,45.0],[19.2,26.9],[23.2,22.1],[27.4,23.6],[30.8,20.1],[33.8,25.8],[35.7,22.4],[39.6,29.4],[42.1,20.8],[44.6,27.6],[47.7,22.9],[49.9,26.3],[53.6,21.7],[56.2,25.9],[59.8,24.8],[31.9,37.2],[28.9,28.9],[46.1,33.0],[57.8,29.9],[61.5,25.4],[65.0,28.8],[17.4,18.2],[34.6,30.6],[52.0,30.1]];
const UK = [[6.6,6.4],[7.3,6.4],[10.2,7.8],[10.5,8.9],[10.7,10.6],[11.0,10.9],[11.2,9.5],[11.6,8.3],[11.9,7.5],[12.0,10.2],[12.3,10.7],[12.5,9.0],[12.8,12.2],[13.0,10.8],[13.3,11.3],[13.5,12.9],[13.6,9.2],[13.8,11.8],[14.0,9.6],[14.2,10.5],[14.5,11.7],[14.6,13.4],[14.8,12.8],[15.1,12.2],[15.3,11.0],[15.4,11.6],[15.6,14.2],[15.7,12.7],[15.9,9.2],[16.0,13.5],[16.2,12.3],[16.3,11.8],[16.5,12.9],[16.8,12.4],[16.9,11.9],[17.1,11.3],[17.3,14.1],[17.5,12.9],[17.7,14.2],[17.8,11.6],[18.0,15.7],[18.1,8.5],[18.3,12.0],[18.4,13.8],[18.7,12.6],[19.0,14.3],[19.3,12.9],[19.4,11.9],[19.6,14.8],[20.0,13.4],[20.3,18.3],[20.5,12.2],[21.0,14.0],[21.5,13.2],[22.0,15.1],[22.2,12.7],[22.6,15.4],[23.2,13.5],[23.3,18.7],[24.2,13.8],[12.2,8.3],[16.6,10.5],[19.8,13.0]];
// Stations from countries without a panel of their own
const OTHER = [[10.5,8.0],[12.0,9.5],[13.5,7.5],[14.0,11.0],[15.0,9.0],[15.5,12.5],[16.0,10.5],[17.0,13.5],[17.5,9.5],[18.0,11.5],[18.5,14.0],[19.0,10.0],[19.5,12.5],[20.0,15.0],[20.5,11.0],[21.0,13.0],[21.5,16.5],[22.0,12.0],[22.5,14.5],[23.0,10.5],[23.5,17.0],[24.0,13.0],[24.5,15.5],[25.0,11.5],[26.0,14.0],[27.0,16.5],[28.0,12.5],[29.0,15.0],[30.0,18.0],[31.0,13.5],[32.0,16.0],[34.0,14.5],[36.0,17.5],[8.5,6.5],[9.5,9.0],[11.0,12.0],[26.5,20.0],[33.0,21.0],[38.0,19.0],[40.0,16.0]];
// All stations together
const EU = [].concat(AT,BE,BG,CH,ES,EL,CZ,DE,FR,FI,HR,HU,IE,IS,IT,LT,MK,NL,NO,RO,PL,PT,SE,SI,SK,TR,UK,OTHER);

const stationData = {AT,BE,BG,CH,ES,EL,CZ,DE,FR,FI,HR,HU,IE,IS,IT,LT,MK,NL,NO,RO,PL,PT,SE,SI,SK,TR,UK,EU};

// Layout of the panel grid
const FONT = '"Liberation Sans", Arial, Helvetica, sans-serif';
const colLeft = [60, 244.7, 429.3, 614, 799.3];
const rowTop = [57, 235, 413, 591, 769.5, 947];
const PW = 139, PH = 127;
const INK = '#262626';

const grids = [], xAxes = [], yAxes = [], series = [], graphics = [];

function tickFormatter(step) {
  return function (v) {
    const k = v / step;
    return Math.abs(k - Math.round(k)) < 1e-6 ? String(Math.round(v)) : '';
  };
}

function axisCfg(i, step, max, isX) {
  return {
    gridIndex: i, type: 'value', min: 0, max: max, interval: step,
    axisLine: { show: false },
    axisTick: { show: true, inside: true, length: 3, lineStyle: { color: INK, width: 1 } },
    axisLabel: { formatter: tickFormatter(step), color: INK, fontSize: 14, fontFamily: FONT, margin: isX ? 7 : 7 },
    splitLine: { show: true, showMinLine: false, showMaxLine: false, lineStyle: { color: '#dcdcdc', width: 1 } }
  };
}

const supText = function (label) {
  return { text: '{t|' + label + ' (μg/m}{s|3}{t|)}', align: 'center', verticalAlign: 'middle',
    rich: { t: { fontSize: 16.6, fontFamily: FONT, fill: INK },
            s: { fontSize: 11.5, fontFamily: FONT, fill: INK, padding: [0, 0, 9, 0] } } };
};

countries.forEach(function (code, i) {
  const r = Math.floor(i / 5), c = i % 5;
  const left = colLeft[c], top = rowTop[r];
  grids.push({ left: left, top: top, width: PW, height: PH, show: true, borderColor: INK, borderWidth: 1,
               backgroundColor: 'transparent', containLabel: false, outerBoundsMode: 'none' });
  xAxes.push(axisCfg(i, tickStep[i], axisMax[i], true));
  yAxes.push(axisCfg(i, tickStep[i], axisMax[i], false));

  series.push({
    type: 'scatter', xAxisIndex: i, yAxisIndex: i, data: stationData[code],
    symbol: 'circle', symbolSize: 3, itemStyle: { color: '#0000ff', opacity: 1 },
    clip: false, large: false, silent: true, z: 2
  });
  const f = fitLines[i];
  series.push({
    type: 'line', xAxisIndex: i, yAxisIndex: i, data: [[f[0], f[1]], [f[2], f[3]]],
    symbol: 'none', showSymbol: false, clip: true, silent: true,
    lineStyle: { color: '#8a8a8a', width: 1 }, z: 3
  });

  // panel heading
  graphics.push({ type: 'text', x: left + PW / 2, y: top - 12.5, z: 100, silent: true,
    style: { text: code, font: 'bold 16px ' + FONT, fill: '#000', align: 'center', verticalAlign: 'middle' } });
  // statistics block
  graphics.push({ type: 'text', x: left + 7, y: top + 12, z: 100, silent: true,
    style: { text: '{t|r}{s|2}{t|  = ' + r2Text[i] + '}', align: 'left', verticalAlign: 'middle',
      rich: { t: { fontSize: 14.5, fontFamily: FONT, fill: '#000' },
              s: { fontSize: 10.5, fontFamily: FONT, fill: '#000', padding: [0, 0, 9, 0] } } } });
  graphics.push({ type: 'text', x: left + 7, y: top + 26.5, z: 100, silent: true,
    style: { text: 'BIAS% = ' + biasText[i], font: '14.5px ' + FONT, fill: '#000', align: 'left', verticalAlign: 'middle' } });
  graphics.push({ type: 'text', x: left + 7, y: top + 41.5, z: 100, silent: true,
    style: { text: 'N  = ' + nText[i], font: '14.5px ' + FONT, fill: '#000', align: 'left', verticalAlign: 'middle' } });

  if (c === 0) {
    graphics.push({ type: 'text', x: 22, y: top + PH / 2, rotation: Math.PI / 2, z: 100, silent: true,
      style: supText('Modelled') });
  }
  if (r === 5) {
    graphics.push({ type: 'text', x: left + PW / 2, y: 1118, z: 100, silent: true,
      style: supText('Observed') });
  }
});

// figure heading
graphics.push({ type: 'text', x: 498, y: 17, z: 100, silent: true,
  style: { text: '{b|uEMEP PM}{d|10}{b| annual mean (2018) by country}', align: 'center', verticalAlign: 'middle',
    rich: { b: { fontSize: 16.3, fontWeight: 'bold', fontFamily: FONT, fill: '#000' },
            d: { fontSize: 11.5, fontWeight: 'bold', fontFamily: FONT, fill: '#000', padding: [8, 0, 0, 0] } } } });

const chart = echarts.init(document.getElementById('chart'), null, { renderer: 'canvas', width: 939, height: 1130 });
chart.setOption({
  animation: false,
  backgroundColor: '#ffffff',
  grid: grids,
  xAxis: xAxes,
  yAxis: yAxes,
  series: series,
  graphic: { elements: graphics }
});
</script>
</body>
</html>
